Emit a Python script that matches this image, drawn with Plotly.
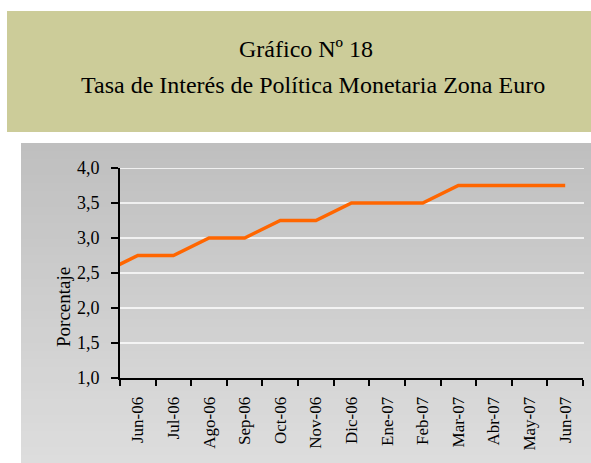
import plotly.graph_objects as go

# ---- data ----
months = ["May-06", "Jun-06", "Jul-06", "Ago-06", "Sep-06", "Oct-06", "Nov-06", "Dic-06",
          "Ene-07", "Feb-07", "Mar-07", "Abr-07", "May-07", "Jun-07"]
rates = [2.50, 2.75, 2.75, 3.00, 3.00, 3.25, 3.25, 3.50, 3.50, 3.50, 3.75, 3.75, 3.75, 3.75]
y_ticks = [1.0, 1.5, 2.0, 2.5, 3.0, 3.5, 4.0]
y_labels = ["1,0", "1,5", "2,0", "2,5", "3,0", "3,5", "4,0"]
title1 = "Gráfico Nº 18"
title2 = "Tasa de Interés de Política Monetaria Zona Euro"
y_title = "Porcentaje"

W, H = 591, 463
L, R, T, B = 120, 8, 168, 85
pw, ph = W - L - R, H - T - B

def px(x):
    return (x - L) / pw
def py(y):
    return (H - B - y) / ph

FONT = "Liberation Serif"

fig = go.Figure()
fig.add_trace(go.Scatter(
    x=months, y=rates, mode="lines",
    line=dict(color="#FF6600", width=3.5),
    cliponaxis=True, showlegend=False, hoverinfo="skip"))

shapes = []
# gray gradient background
n = 40
top, bot = 143, 463
c0, c1 = 191, 221
for i in range(n):
    y0 = top + (bot - top) * i / n
    y1 = top + (bot - top) * (i + 1) / n + 0.6
    c = round(c0 + (c1 - c0) * i / (n - 1))
    shapes.append(dict(type="rect", xref="paper", yref="paper",
                       x0=px(21), x1=px(591), y0=py(y1), y1=py(y0),
                       fillcolor=f"rgb({c},{c},{c})", line=dict(width=0), layer="below"))
# title box
shapes.append(dict(type="rect", xref="paper", yref="paper",
                   x0=px(7), x1=px(591), y0=py(132), y1=py(11),
                   fillcolor="#CCCC99", line=dict(width=0), layer="below"))
# white gridlines
for v in y_ticks[1:]:
    shapes.append(dict(type="line", xref="paper", yref="y", x0=0, x1=px(584), y0=v, y1=v,
                       line=dict(color="white", width=1.5), layer="below"))

fig.update_layout(
    width=W, height=H,
    margin=dict(l=L, r=R, t=T, b=B),
    paper_bgcolor="white", plot_bgcolor="rgba(0,0,0,0)",
    shapes=shapes,
    font=dict(family=FONT, color="black"),
    annotations=[
        dict(text=title1, xref="paper", yref="paper", x=px(306), y=py(49),
             showarrow=False, font=dict(size=24, family=FONT, color="black"),
             xanchor="center", yanchor="middle"),
        dict(text=title2, xref="paper", yref="paper", x=px(313), y=py(85),
             showarrow=False, font=dict(size=24, family=FONT, color="black"),
             xanchor="center", yanchor="middle"),
        dict(text=y_title, xref="paper", yref="paper", x=px(63), y=py(307),
             showarrow=False, textangle=-90, font=dict(size=19, family=FONT, color="black"),
             xanchor="center", yanchor="middle"),
    ],
)

fig.update_xaxes(
    type="category", categoryorder="array", categoryarray=months,
    range=[0.5, len(months) - 0.5], automargin=False,
    tickson="boundaries", ticks="outside", ticklen=6, tickwidth=1.5, tickcolor="black",
    showline=True, linecolor="black", linewidth=2,
    showgrid=False, zeroline=False,
    tickangle=-90, ticklabelstandoff=10,
    tickvals=months, ticktext=months,
    tickfont=dict(size=17, family=FONT, color="black"),
)
fig.update_yaxes(
    range=[1.0, 4.0], tickvals=y_ticks, ticktext=y_labels, automargin=False,
    ticks="outside", ticklen=7, tickwidth=1.5, tickcolor="black",
    showline=True, linecolor="black", linewidth=2,
    showgrid=False, zeroline=False, ticklabelstandoff=8,
    tickfont=dict(size=18, family=FONT, color="black"),
)

fig.write_html("out.html", config={"displayModeBar": False},
               post_script="document.body.style.margin='0';")
